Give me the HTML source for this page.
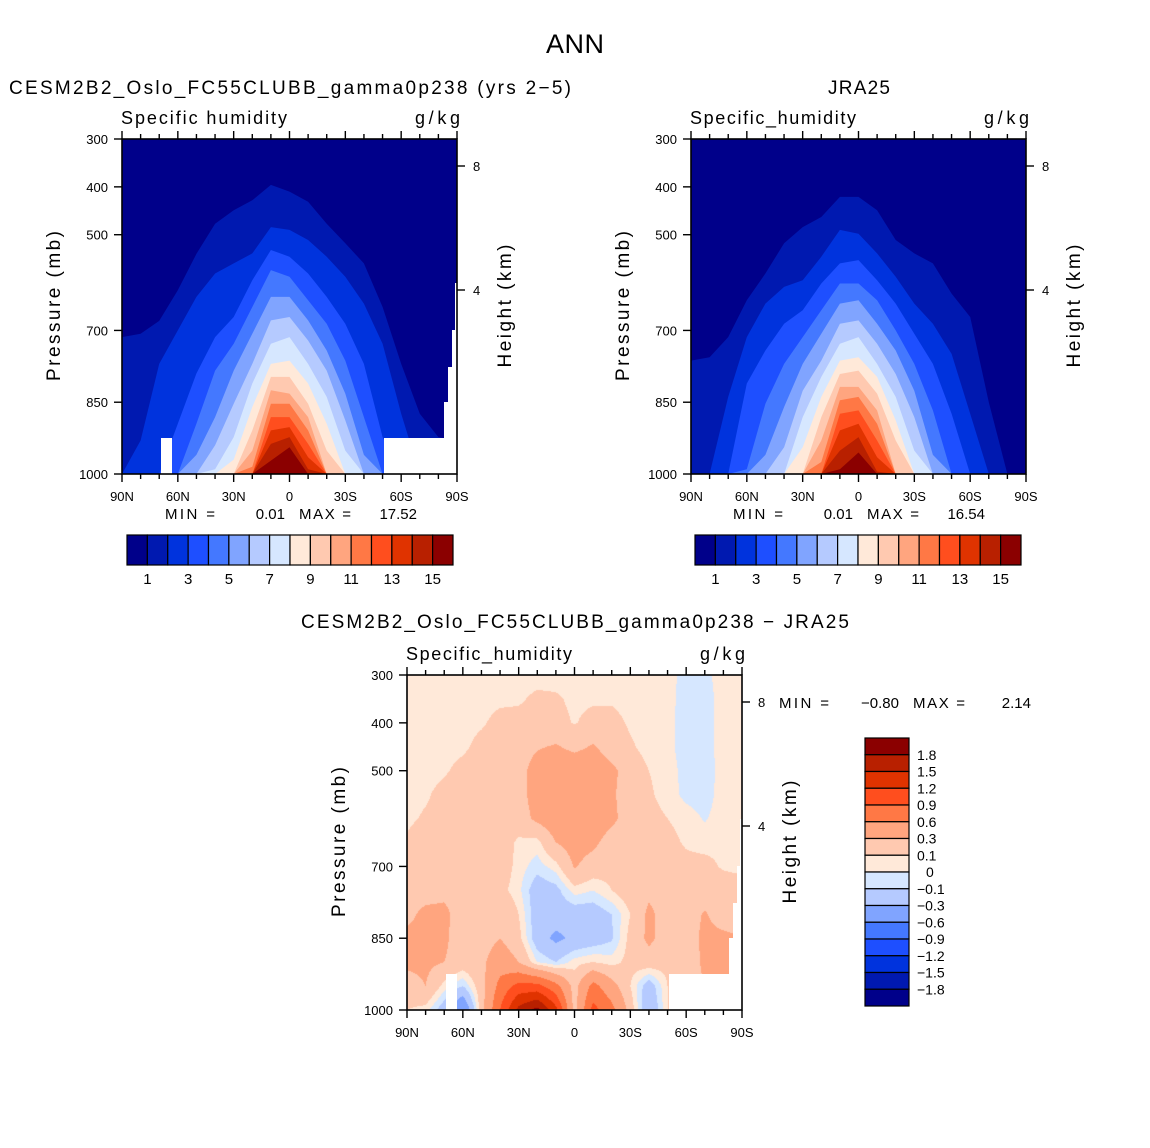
<!DOCTYPE html>
<html><head><meta charset="utf-8"><style>
body{margin:0;background:#fff;width:1150px;height:1148px;position:relative;overflow:hidden}
#cv{position:absolute;left:407px;top:675px;z-index:0}
#main{position:absolute;left:0;top:0;z-index:1}
text{font-family:"Liberation Sans",sans-serif;fill:#000}
</style></head><body>
<canvas id="cv" width="335" height="335"></canvas>
<svg id="main" width="1150" height="1148" xmlns="http://www.w3.org/2000/svg">
<text x="575" y="53" font-size="27" text-anchor="middle" textLength="58">ANN</text>
<text x="290" y="94" font-size="19" text-anchor="middle" textLength="562">CESM2B2_Oslo_FC55CLUBB_gamma0p238 (yrs 2−5)</text>
<text x="859" y="94" font-size="19" text-anchor="middle" textLength="62">JRA25</text>
<text x="575" y="628" font-size="19" text-anchor="middle" textLength="548">CESM2B2_Oslo_FC55CLUBB_gamma0p238 − JRA25</text>
<g id="plots"></g>
</svg>
<script>
const palette=['#00008a','#0019b0','#0033dd','#1e4fff','#4478ff','#80a4ff','#b5caff','#d6e7ff','#ffe9d9','#ffc9b0','#ffa57f','#ff7845','#ff4e1e','#e03300','#b82000','#8b0000'];
const lats=[90,80,70,60,50,40,30,20,10,0,-10,-20,-30,-40,-50,-60,-70,-80,-90];
const pressures=[300,350,400,450,500,550,600,650,700,750,800,850,900,950,1000];
const levelLabelsTop=[1,3,5,7,9,11,13,15];
const diffLevels=[-1.8,-1.5,-1.2,-0.9,-0.6,-0.3,-0.1,0,0.1,0.3,0.6,0.9,1.2,1.5,1.8];
const diffLabels=['1.8','1.5','1.2','0.9','0.6','0.3','0.1','0','−0.1','−0.3','−0.6','−0.9','−1.2','−1.5','−1.8'];
// pressure (mb) of top boundary of region q >= level k (k=1..15), per latitude
const cesmL1=[714,707,680,616,540,477,449,428,396,410,431,477,518,560,651,770,874,923,930];
const cesmL2=[1000,930,770,700,630,581,560,539,484,490,511,546,588,644,728,874,1000,1000,1000];
const cesmL3=[1000,1000,1000,895,790,714,672,595,532,546,581,630,686,770,923,1000,1000,1000,1000];
const cesmL4=[1000,1000,1000,1000,895,784,728,651,574,588,637,686,763,881,1000,1000,1000,1000,1000];
const cesmL5=[1000,1000,1000,1000,960,881,784,707,630,630,679,742,832,960,1000,1000,1000,1000,1000];
const cesmL6=[1000,1000,1000,1000,1000,940,853,770,679,672,721,784,888,1000,1000,1000,1000,1000,1000];
const cesmL7=[1000,1000,1000,1000,1000,990,923,811,728,714,770,839,951,1000,1000,1000,1000,1000,1000];
const cesmL8=[1000,1000,1000,1000,1000,1000,970,860,770,763,811,895,1000,1000,1000,1000,1000,1000,1000];
const cesmL9=[1000,1000,1000,1000,1000,1000,1000,909,797,797,853,951,1000,1000,1000,1000,1000,1000,1000];
const cesmL10=[1000,1000,1000,1000,1000,1000,1000,951,825,832,881,1000,1000,1000,1000,1000,1000,1000,1000];
const cesmL11=[1000,1000,1000,1000,1000,1000,1000,985,853,853,909,1000,1000,1000,1000,1000,1000,1000,1000];
const cesmL12=[1000,1000,1000,1000,1000,1000,1000,1000,881,881,937,1000,1000,1000,1000,1000,1000,1000,1000];
const cesmL13=[1000,1000,1000,1000,1000,1000,1000,1000,909,902,965,1000,1000,1000,1000,1000,1000,1000,1000];
const cesmL14=[1000,1000,1000,1000,1000,1000,1000,1000,937,923,990,1000,1000,1000,1000,1000,1000,1000,1000];
const cesmL15=[1000,1000,1000,1000,1000,1000,1000,1000,972,944,1000,1000,1000,1000,1000,1000,1000,1000,1000];
const jraL1=[763,756,714,637,581,518,484,463,421,421,449,511,539,560,623,672,850,1000,1000];
const jraL2=[1000,1000,839,714,644,609,595,546,490,498,539,588,644,686,749,874,1000,1000,1000];
const jraL3=[1000,1000,1000,811,742,686,658,602,560,553,595,644,707,770,874,1000,1000,1000,1000];
const jraL4=[1000,1000,1000,990,853,770,714,658,602,602,637,700,770,867,1000,1000,1000,1000,1000];
const jraL5=[1000,1000,1000,1000,960,860,770,707,644,637,686,742,826,960,1000,1000,1000,1000,1000];
const jraL6=[1000,1000,1000,1000,1000,944,826,763,686,679,728,791,881,1000,1000,1000,1000,1000,1000];
const jraL7=[1000,1000,1000,1000,1000,1000,881,797,728,714,770,839,951,1000,1000,1000,1000,1000,1000];
const jraL8=[1000,1000,1000,1000,1000,1000,944,839,763,756,797,888,1000,1000,1000,1000,1000,1000,1000];
const jraL9=[1000,1000,1000,1000,1000,1000,1000,881,791,784,832,930,1000,1000,1000,1000,1000,1000,1000];
const jraL10=[1000,1000,1000,1000,1000,1000,1000,930,818,818,867,1000,1000,1000,1000,1000,1000,1000,1000];
const jraL11=[1000,1000,1000,1000,1000,1000,1000,975,846,839,895,1000,1000,1000,1000,1000,1000,1000,1000];
const jraL12=[1000,1000,1000,1000,1000,1000,1000,1000,874,867,930,1000,1000,1000,1000,1000,1000,1000,1000];
const jraL13=[1000,1000,1000,1000,1000,1000,1000,1000,909,895,965,1000,1000,1000,1000,1000,1000,1000,1000];
const jraL14=[1000,1000,1000,1000,1000,1000,1000,1000,951,923,995,1000,1000,1000,1000,1000,1000,1000,1000];
const jraL15=[1000,1000,1000,1000,1000,1000,1000,1000,990,955,1000,1000,1000,1000,1000,1000,1000,1000,1000];
// difference field (g/kg), rows = pressures, cols = lats
const d300=[.05,.05,.05,.05,.05,.05,.05,.05,.05,.05,.05,.05,.05,.05,.05,-.05,-.03,.05,.05];
const d350=[.05,.05,.05,.05,.05,.07,.08,.13,.12,.07,.08,.08,.05,.05,.04,-.05,-.05,.05,.05];
const d400=[.05,.05,.05,.05,.08,.15,.15,.15,.15,.09,.15,.15,.08,.05,.03,-.05,-.05,.05,.05];
const d450=[.05,.05,.05,.07,.15,.2,.2,.28,.32,.25,.32,.2,.12,.05,.03,-.05,-.05,.05,.05];
const d500=[.05,.05,.08,.15,.2,.2,.22,.4,.45,.45,.45,.35,.2,.1,.05,-.04,-.06,.05,.05];
const d550=[.05,.08,.15,.2,.2,.2,.22,.4,.45,.45,.45,.33,.2,.12,.05,-.03,-.05,.05,.05];
const d600=[.07,.12,.15,.2,.2,.2,.2,.35,.45,.45,.45,.35,.2,.15,.1,.05,-.01,.05,.05];
const d650=[.12,.2,.2,.2,.2,.2,.07,.05,.3,.4,.35,.2,.2,.2,.15,.08,.05,.07,.05];
const d700=[.2,.2,.2,.2,.2,.2,.05,-.05,.05,.32,.2,.15,.2,.2,.2,.15,.15,.08,.05];
const d750=[.2,.22,.25,.2,.2,.15,.03,-.2,-.15,.05,0,.1,.2,.25,.2,.2,.2,.2,.2];
const d800=[.25,.35,.35,.2,.2,.3,.1,-.2,-.2,-.2,-.2,-.1,.1,.35,.2,.2,.32,.2,.2];
const d850=[.35,.35,.35,.15,.2,.3,.15,-.2,-.35,-.25,-.2,-.12,.15,.35,.2,.2,.35,.35,.3];
const d900=[.35,.35,.3,.2,.25,.45,.3,0,-.1,.05,.1,.05,.15,.2,.15,.15,.35,.35,.3];
const d950=[.2,.3,.05,-.1,.2,.7,1.0,1.0,.7,.2,.7,.4,.1,-.2,.1,.2,.3,.3,.3];
const d1000=[.1,.05,-.2,-.6,.2,.9,1.6,1.9,1.3,.2,1.0,.7,.2,-.3,.1,.2,.3,.3,.3];

const cesmLevels=[cesmL1,cesmL2,cesmL3,cesmL4,cesmL5,cesmL6,cesmL7,cesmL8,cesmL9,cesmL10,cesmL11,cesmL12,cesmL13,cesmL14,cesmL15];
const jraLevels=[jraL1,jraL2,jraL3,jraL4,jraL5,jraL6,jraL7,jraL8,jraL9,jraL10,jraL11,jraL12,jraL13,jraL14,jraL15];
const diffGrid=[d300,d350,d400,d450,d500,d550,d600,d650,d700,d750,d800,d850,d900,d950,d1000];

const NS='http://www.w3.org/2000/svg';
const G=document.getElementById('plots');
const W=335,H=335;
function mk(tag,attrs,parent){const e=document.createElementNS(NS,tag);for(const k in attrs)e.setAttribute(k,attrs[k]);(parent||G).appendChild(e);return e;}
function txt(x,y,s,size,anchor,parent){const t=mk('text',{x:x,y:y,'font-size':size,'text-anchor':anchor||'start'},parent);t.textContent=s;return t;}
const xs=(ox,lat)=>ox+(90-lat)/180*W;
const ys=(oy,p)=>oy+(p-300)/700*H;

function missing(ox,oy,name){
  const g=mk('g',{});
  
  
  const r=[[39,299,11,37],[262,299,74,37],[322,263,14,37],[326,228,10,36],[330,191,6,38],[333,144,3,48]];
  r.forEach(a=>mk('rect',{x:ox+a[0],y:oy+a[1],width:a[2],height:a[3],fill:'#fff'},g));
}

function contourPlot(ox,oy,levels,name){
  const g=mk('g',{});
  
  
  const bg=mk('rect',{x:ox,y:oy,width:W,height:H,fill:palette[0]},g);
  
  
  levels.forEach((arr,k)=>{
    let pts=lats.map((la,i)=>xs(ox,la).toFixed(1)+','+ys(oy,arr[i]).toFixed(1));
    pts.push(xs(ox,-90)+','+ys(oy,1000));pts.push(xs(ox,90)+','+ys(oy,1000));
    const pg=mk('polygon',{points:pts.join(' '),fill:palette[k+1]},g);
    
    
  });
}

function axes(ox,oy,name,varname){
  const g=mk('g',{});
  
  
  mk('rect',{x:ox,y:oy,width:W,height:H,fill:'none',stroke:'#000','stroke-width':1.6},g);
  for(let la=90;la>=-90;la-=10){
    const x=xs(ox,la),maj=la%30===0,l=maj?8:5;
    mk('line',{x1:x,y1:oy,x2:x,y2:oy-l,stroke:'#000','stroke-width':1.4},g);
    mk('line',{x1:x,y1:oy+H,x2:x,y2:oy+H+l,stroke:'#000','stroke-width':1.4},g);
    if(maj){const s=la===0?'0':Math.abs(la)+(la>0?'N':'S');const t=txt(x,oy+H+27,s,13,'middle',g);
      }
  }
  [300,400,500,700,850,1000].forEach(p=>{
    const y=ys(oy,p);
    mk('line',{x1:ox,y1:y,x2:ox-8,y2:y,stroke:'#000','stroke-width':1.4},g);
    const t=txt(ox-14,y+5,String(p),13,'end',g);
    
  });
  [[8,27],[4,151]].forEach(a=>{
    const y=oy+a[1];
    mk('line',{x1:ox+W,y1:y,x2:ox+W+8,y2:y,stroke:'#000','stroke-width':1.4},g);
    const t=txt(ox+W+16,y+5,String(a[0]),13,'start',g);
    
  });
  const yt=txt(0,0,'Pressure (mb)',19,'middle',g);
  yt.setAttribute('textLength','150');
  yt.setAttribute('transform','translate('+(ox-62)+','+(oy+167)+') rotate(-90)');
  
  const ht=txt(0,0,'Height (km)',19,'middle',g);
  ht.setAttribute('textLength','123');
  ht.setAttribute('transform','translate('+(ox+W+54)+','+(oy+167)+') rotate(-90)');
  
  const vt=txt(ox-1,oy-15,varname,18,'start',g);
  vt.setAttribute('textLength','166');
  
  const ut=txt(ox+W+3,oy-15,'g/kg',18,'end',g);
  ut.setAttribute('textLength','45');
  
}

function hColorbar(x0,y0,name){
  const g=mk('g',{});
  
  
  const w=326/16;
  palette.forEach((c,i)=>{const r=mk('rect',{x:x0+i*w,y:y0,width:w,height:30,fill:c,stroke:'#000','stroke-width':1.2},g);
    });
  levelLabelsTop.forEach(v=>{const t=txt(x0+v*w,y0+49,String(v),15,'middle',g);
    });
}

function minmax(x,y,minS,maxS,name){
  const g=mk('g',{});
  
  
  txt(x,y,'MIN =',15,'start',g).setAttribute('textLength','50');
  txt(x+120,y,minS,15,'end',g);
  txt(x+134,y,'MAX =',15,'start',g).setAttribute('textLength','52');
  txt(x+252,y,maxS,15,'end',g);
}

// top-left
contourPlot(122,139,cesmLevels,'model-contour-plot');
missing(122,139,'model-missing-mask');
axes(122,139,'model-axes','Specific humidity');
minmax(165,519,'0.01','17.52','model-min-max');
hColorbar(127,535,'model-colorbar');
// top-right
contourPlot(691,139,jraLevels,'obs-contour-plot');
axes(691,139,'obs-axes','Specific_humidity');
minmax(733,519,'0.01','16.54','obs-min-max');
hColorbar(695,535,'obs-colorbar');

// difference canvas
(function(){
  const cv=document.getElementById('cv'),ctx=cv.getContext('2d'),img=ctx.createImageData(W,H);
  const rgb=palette.map(c=>[parseInt(c.substr(1,2),16),parseInt(c.substr(3,2),16),parseInt(c.substr(5,2),16)]);
  const nr=pressures.length,nc=lats.length;
  for(let j=0;j<H;j++){
    const p=300+(j+0.5)/H*700;
    let fr=(p-pressures[0])/(pressures[nr-1]-pressures[0])*(nr-1);fr=Math.max(0,Math.min(nr-1.0001,fr));
    const r0=Math.floor(fr),tr=fr-r0;
    for(let i=0;i<W;i++){
      const la=90-(i+0.5)/W*180;
      let fc=(90-la)/180*(nc-1);fc=Math.max(0,Math.min(nc-1.0001,fc));
      const c0=Math.floor(fc),tc=fc-c0;
      const v=(diffGrid[r0][c0]*(1-tc)+diffGrid[r0][c0+1]*tc)*(1-tr)+(diffGrid[r0+1][c0]*(1-tc)+diffGrid[r0+1][c0+1]*tc)*tr;
      let k=0;while(k<diffLevels.length&&v>=diffLevels[k])k++;
      const o=(j*W+i)*4;img.data[o]=rgb[k][0];img.data[o+1]=rgb[k][1];img.data[o+2]=rgb[k][2];img.data[o+3]=255;
    }
  }
  ctx.putImageData(img,0,0);
})();
missing(407,675,'diff-missing-mask');
axes(407,675,'diff-axes','Specific_humidity');
minmax(779,708,'−0.80','2.14','diff-min-max');
(function(){
  const g=mk('g',{});
  
  
  const h=268/16,x0=865,y0=738;
  palette.slice().reverse().forEach((c,i)=>{const r=mk('rect',{x:x0,y:y0+i*h,width:44,height:h,fill:c,stroke:'#000','stroke-width':1.2},g);
    });
  diffLabels.forEach((s,i)=>{const t=txt(s==='0'?926:917,y0+(i+1)*h+5,s,14,'start',g);
    });
})();
</script>
</body></html>
